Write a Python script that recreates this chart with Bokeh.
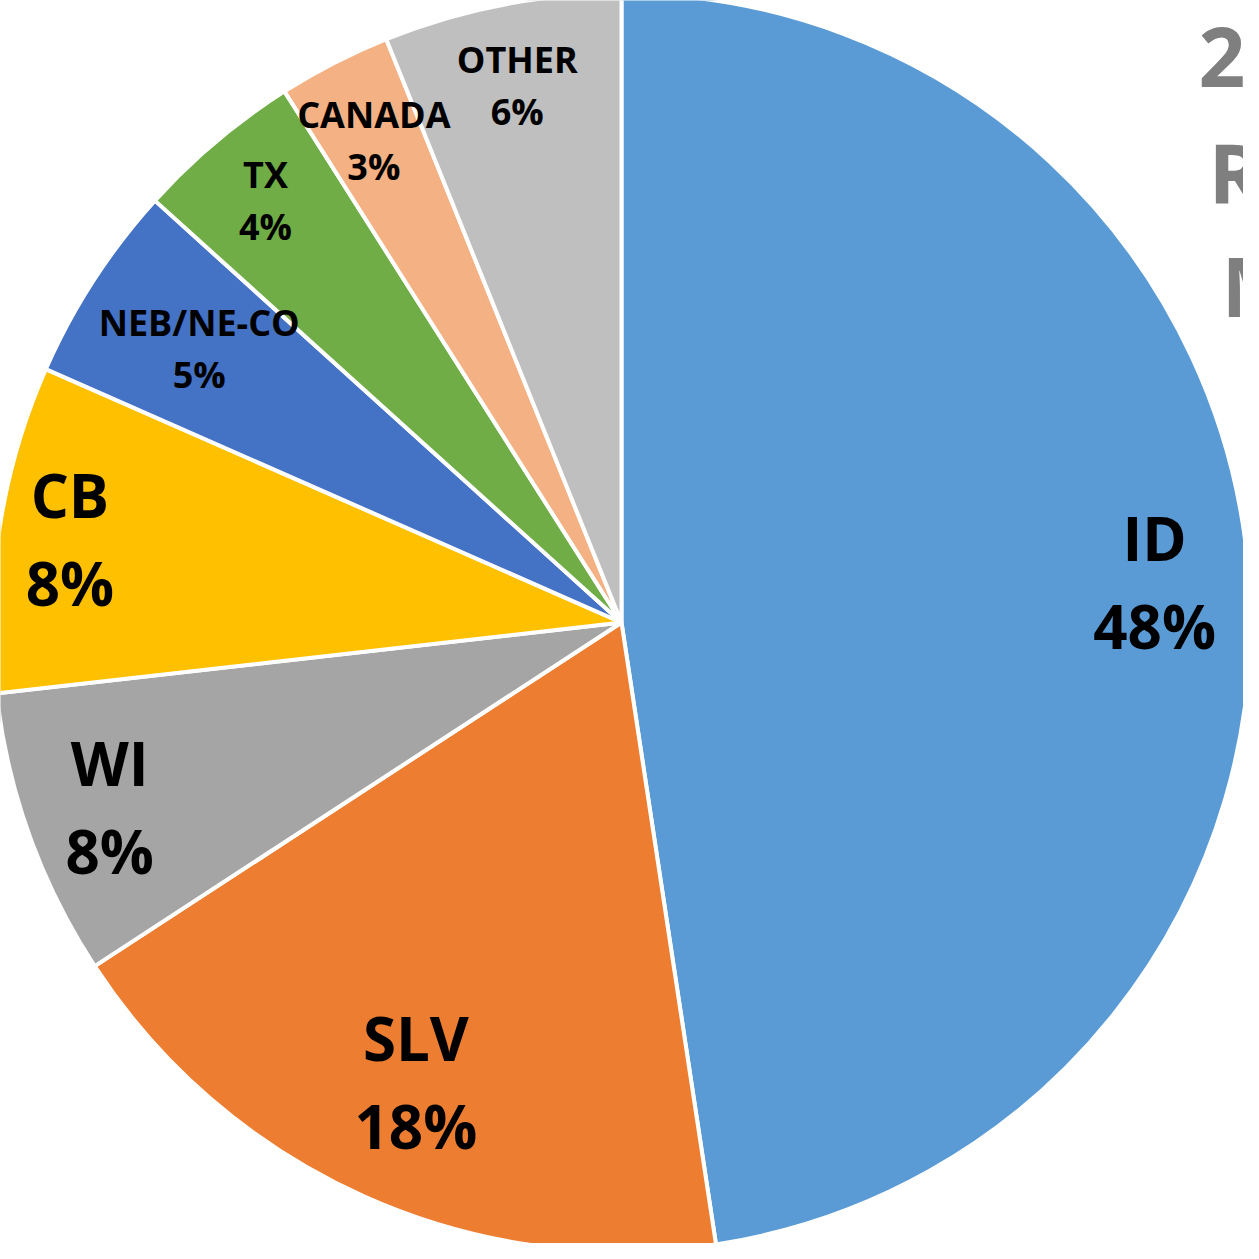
import math
from bokeh.plotting import figure
from bokeh.models import Range1d, ColumnDataSource, Label
from bokeh.embed import file_html
from bokeh.resources import INLINE
from bokeh.core.properties import value

# ---- data (clockwise from 12 o'clock) ----
regions = ["ID", "SLV", "WI", "CB", "NEB/NE-CO", "TX", "CANADA", "OTHER"]
shares = [47.6, 18.2, 7.4, 8.4, 5.1, 4.3, 2.9, 6.1]
pct_labels = ["48%", "18%", "8%", "8%", "5%", "4%", "3%", "6%"]
colors = ["#5B9BD5", "#ED7D31", "#A5A5A5", "#FFC000", "#4472C4", "#70AD47", "#F4B183", "#BFBFBF"]
title_lines = ["2018", "RUSSET", "MARKET"]

# ---- layout ----
R = 629
label_frac = [0.85, 0.80, 0.865, 0.887, 0.80, 0.878, 0.862, 0.87]
big = [True, True, True, True, False, False, False, False]

total = sum(shares)
starts, ends, lx, ly = [], [], [], []
acc = 0.0
for i, s in enumerate(shares):
    a = acc / total * 2 * math.pi
    acc += s
    b = acc / total * 2 * math.pi
    starts.append(math.pi / 2 - b)
    ends.append(math.pi / 2 - a)
    m = (a + b) / 2
    lx.append(R * label_frac[i] * math.sin(m))
    ly.append(R * label_frac[i] * math.cos(m))

src = ColumnDataSource(dict(start=starts, end=ends, color=colors,
                            region=regions, pct=pct_labels))

W = H = 1243
p = figure(width=W, height=H, output_backend="svg", toolbar_location=None,
           x_range=Range1d(-621, 622), y_range=Range1d(-621, 622),
           min_border=0)
p.axis.visible = False
p.grid.visible = False
p.outline_line_color = None
p.background_fill_color = "white"
p.border_fill_color = "white"

p.wedge(x=0, y=0, radius=R, start_angle="start", end_angle="end",
        fill_color="color", line_color="white", line_width=4, source=src)

big_idx = [i for i in range(len(regions)) if big[i]]
small_idx = [i for i in range(len(regions)) if not big[i]]

def sub(idx):
    return ColumnDataSource(dict(x=[lx[i] for i in idx], y=[ly[i] for i in idx],
                                 name=[regions[i] for i in idx],
                                 pct=[pct_labels[i] for i in idx]))

sb = sub(big_idx)
ss = sub(small_idx)
font = value("Open Sans")
p.text(x="x", y="y", text="name", source=sb, text_font=font, text_font_style="bold",
       text_font_size="60px", text_align="center", text_baseline="middle",
       y_offset=-44, text_color="black")
p.text(x="x", y="y", text="pct", source=sb, text_font=font, text_font_style="bold",
       text_font_size="60px", text_align="center", text_baseline="middle",
       y_offset=44, text_color="black")
p.text(x="x", y="y", text="name", source=ss, text_font=font, text_font_style="bold",
       text_font_size="36px", text_align="center", text_baseline="middle",
       y_offset=-26, text_color="black")
p.text(x="x", y="y", text="pct", source=ss, text_font=font, text_font_style="bold",
       text_font_size="36px", text_align="center", text_baseline="middle",
       y_offset=26, text_color="black")

title_x = [577, 587, 600]
title_y = [566, 451, 338]
for t, x, y in zip(title_lines, title_x, title_y):
    p.add_layout(Label(x=x, y=y, text=t, text_font="Open Sans", text_font_style="bold",
                       text_font_size="82px", text_color="#7F7F7F",
                       text_align="left", text_baseline="alphabetic"))

open("out.html", "w").write(file_html(p, INLINE))
